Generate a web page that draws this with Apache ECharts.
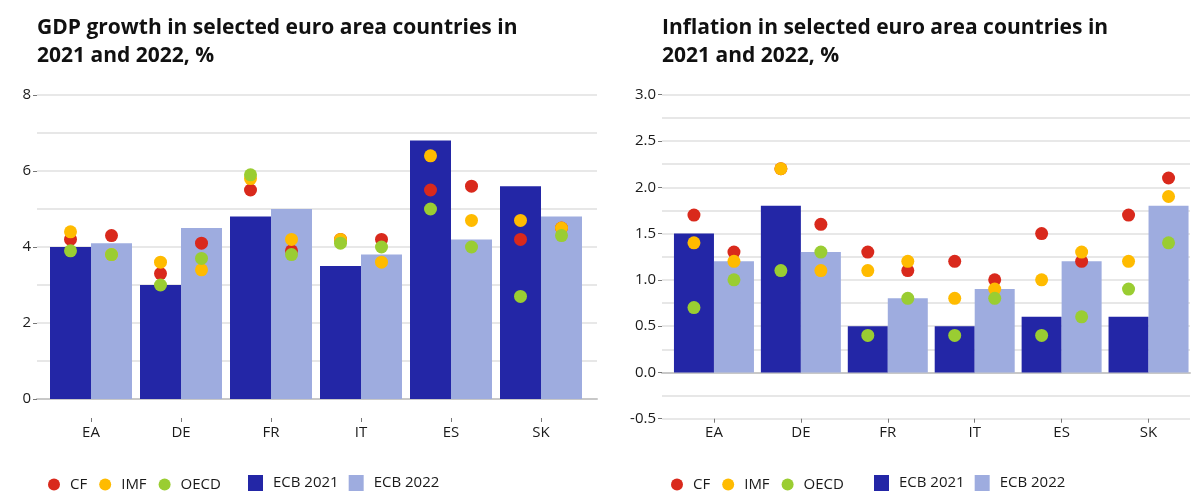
<!DOCTYPE html>
<html>
<head>
<meta charset="utf-8">
<script src="https://cdn.jsdelivr.net/npm/echarts@6/dist/echarts.min.js"></script>
<style>
html, body {margin: 0; padding: 0; background: #fff;}
#main {width: 1192px; height: 491px;}
</style>
</head>
<body>
<div id="main"></div>
<script>
// categories
var countries = ['EA', 'DE', 'FR', 'IT', 'ES', 'SK'];

// GDP growth, %
var gdpEcb2021 = [4.0, 3.0, 4.8, 3.5, 6.8, 5.6];
var gdpEcb2022 = [4.1, 4.5, 5.0, 3.8, 4.2, 4.8];
var gdpCf2021 = [4.2, 3.3, 5.5, 4.2, 5.5, 4.2];
var gdpCf2022 = [4.3, 4.1, 3.9, 4.2, 5.6, 4.5];
var gdpImf2021 = [4.4, 3.6, 5.8, 4.2, 6.4, 4.7];
var gdpImf2022 = [3.8, 3.4, 4.2, 3.6, 4.7, 4.5];
var gdpOecd2021 = [3.9, 3.0, 5.9, 4.1, 5.0, 2.7];
var gdpOecd2022 = [3.8, 3.7, 3.8, 4.0, 4.0, 4.3];

// inflation, %
var infEcb2021 = [1.5, 1.8, 0.5, 0.5, 0.6, 0.6];
var infEcb2022 = [1.2, 1.3, 0.8, 0.9, 1.2, 1.8];
var infCf2021 = [1.7, 2.2, 1.3, 1.2, 1.5, 1.7];
var infCf2022 = [1.3, 1.6, 1.1, 1.0, 1.2, 2.1];
var infImf2021 = [1.4, 2.2, 1.1, 0.8, 1.0, 1.2];
var infImf2022 = [1.2, 1.1, 1.2, 0.9, 1.3, 1.9];
var infOecd2021 = [0.7, 1.1, 0.4, 0.4, 0.4, 0.9];
var infOecd2022 = [1.0, 1.3, 0.8, 0.8, 0.6, 1.4];

var colCf = '#d9291c';
var colImf = '#ffbb00';
var colOecd = '#9acd32';
var colEcb21 = '#2326a6';
var colEcb22 = '#9eacdf';

var font = 'Open Sans';
var textCol = '#1a1a1a';

var dom = document.getElementById('main');
var myChart = echarts.init(dom, null, {renderer: 'canvas'});

// one panel = background grid (labels, gridlines) + data grid (bars, dots)
function makePanel(p, idx) {
    var g0 = idx * 2, g1 = idx * 2 + 1;
    var grids = [
        {left: p.gridLeft, top: p.top, width: p.gridWidth, height: p.height},
        {left: p.dataLeft, top: p.top, width: p.dataWidth, height: p.height}
    ];
    var yAx = [{
        type: 'value', gridIndex: g0, min: p.min, max: p.max, interval: p.interval,
        axisLine: {show: false},
        axisTick: {show: true, length: 4, lineStyle: {color: '#777'}},
        axisLabel: {
            margin: 6, fontSize: 15, color: textCol, fontFamily: font,
            formatter: function (v) { return p.decimals ? v.toFixed(1) : String(v); }
        },
        splitLine: {lineStyle: {color: '#e0e0e0', width: 1.5}},
        minorTick: {show: false, splitNumber: 2},
        minorSplitLine: {show: true, lineStyle: {color: '#e0e0e0', width: 1.5}}
    }, {
        type: 'value', gridIndex: g1, min: p.min, max: p.max, interval: p.interval,
        show: false
    }];
    var xAx = [{
        // zero line across the whole panel
        type: 'value', gridIndex: g0, min: 0, max: 1,
        axisLine: {show: true, onZero: true, lineStyle: {color: '#c8c8c8', width: 2}},
        axisTick: {show: false}, axisLabel: {show: false}, splitLine: {show: false}
    }, {
        type: 'category', gridIndex: g1, data: countries,
        axisLine: {show: false}, axisTick: {show: false}, axisLabel: {show: false}
    }, {
        // labels and ticks under the plot
        type: 'category', gridIndex: g1, data: countries, position: 'bottom', offset: p.labelOffset,
        axisLine: {show: false},
        axisTick: {show: true, alignWithLabel: true, length: 4, lineStyle: {color: '#777'}},
        axisLabel: {margin: 7, fontSize: 15, color: textCol, fontFamily: font}
    }];
    var xi = idx * 3 + 1, yi = idx * 2 + 1;
    var half = p.barWidth / 2;
    function bar(name, data, color) {
        return {
            name: name, type: 'bar', xAxisIndex: xi, yAxisIndex: yi, data: data,
            barWidth: p.barWidth, barGap: '0%', itemStyle: {color: color}, z: 2
        };
    }
    function dots(name, data, color, off) {
        return {
            name: name, type: 'scatter', xAxisIndex: xi, yAxisIndex: yi, data: data,
            symbol: 'circle', symbolSize: 13, symbolOffset: [off, 0],
            itemStyle: {color: color, opacity: 1}, z: 5
        };
    }
    var series = [
        bar('ECB 2021', p.ecb21, colEcb21),
        bar('ECB 2022', p.ecb22, colEcb22),
        dots('CF', p.cf21, colCf, -half), dots('CF', p.cf22, colCf, half),
        dots('IMF', p.imf21, colImf, -half), dots('IMF', p.imf22, colImf, half),
        dots('OECD', p.oecd21, colOecd, -half), dots('OECD', p.oecd22, colOecd, half)
    ];
    var legTxt = {fontSize: 15, color: textCol, fontFamily: font, padding: [0, 0, 0, 5]};
    var legends = [{
        left: p.legDots, top: 477, padding: 0, itemWidth: 12, itemHeight: 12, itemGap: 12,
        data: [{name: 'CF', icon: 'circle'}, {name: 'IMF', icon: 'circle'}, {name: 'OECD', icon: 'circle'}],
        textStyle: legTxt, selectedMode: false
    }, {
        left: p.legBars, top: 475, padding: 0, itemWidth: 15, itemHeight: 16, itemGap: 10,
        data: [{name: 'ECB 2021', icon: 'rect'}, {name: 'ECB 2022', icon: 'rect'}],
        textStyle: legTxt, selectedMode: false
    }];
    var title = {
        text: p.title, left: p.gridLeft, top: 14, padding: 0,
        textStyle: {fontSize: 21, fontWeight: 'bold', color: '#111', fontFamily: font, lineHeight: 28}
    };
    return {grid: grids, xAxis: xAx, yAxis: yAx, series: series, legend: legends, title: title};
}

var left = makePanel({
    title: 'GDP growth in selected euro area countries in\n2021 and 2022, %',
    gridLeft: 37, gridWidth: 560, dataLeft: 46, dataWidth: 540,
    top: 95, height: 304, min: 0, max: 8, interval: 2, decimals: false,
    labelOffset: 19, barWidth: 41, legDots: 48, legBars: 248,
    ecb21: gdpEcb2021, ecb22: gdpEcb2022, cf21: gdpCf2021, cf22: gdpCf2022,
    imf21: gdpImf2021, imf22: gdpImf2022, oecd21: gdpOecd2021, oecd22: gdpOecd2022
}, 0);

var right = makePanel({
    title: 'Inflation in selected euro area countries in\n2021 and 2022, %',
    gridLeft: 662, gridWidth: 528, dataLeft: 670.5, dataWidth: 522,
    top: 94.7, height: 324, min: -0.5, max: 3, interval: 0.5, decimals: true,
    labelOffset: 0, barWidth: 40, legDots: 671, legBars: 874,
    ecb21: infEcb2021, ecb22: infEcb2022, cf21: infCf2021, cf22: infCf2022,
    imf21: infImf2021, imf22: infImf2022, oecd21: infOecd2021, oecd22: infOecd2022
}, 1);

var option = {
    backgroundColor: '#ffffff',
    animation: false,
    title: [left.title, right.title],
    grid: left.grid.concat(right.grid),
    xAxis: left.xAxis.concat(right.xAxis),
    yAxis: left.yAxis.concat(right.yAxis),
    legend: left.legend.concat(right.legend),
    series: left.series.concat(right.series)
};
myChart.setOption(option);
</script>
</body>
</html>
